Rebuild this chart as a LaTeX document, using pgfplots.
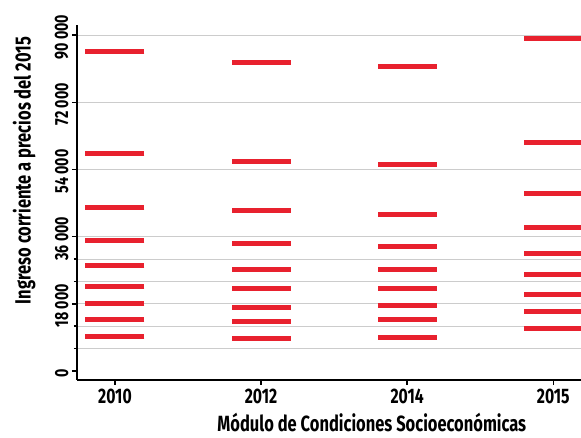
\documentclass[border=0pt]{standalone}
\usepackage{pgfplots}
\pgfplotsset{compat=1.18}
\usepackage{fontspec}
\setmainfont{Fira Sans}[FakeStretch=0.75]
\definecolor{barred}{RGB}{232,33,46}
\definecolor{gridgray}{RGB}{204,204,204}
\begin{document}
\begin{tikzpicture}
\begin{axis}[
  scale only axis, width=504pt, height=355pt,
  xmin=-0.26, xmax=3.19, ymin=-2400, ymax=92700,
  axis x line=bottom, axis y line=left,
  axis line style={-, line width=2.4pt, black},
  xtick={0,1,2,3}, xticklabels={2010,2012,2014,2015},
  ytick={18000,36000,54000,72000,90000},
  minor ytick={6000,12000,24000,30000},
  extra y ticks={0}, extra y tick style={grid=none},
  scaled y ticks=false,
  ymajorgrids, yminorgrids,
  major grid style={gridgray, line width=1pt},
  minor grid style={gridgray, line width=1pt},
  tick align=outside, major tick length=5pt, minor tick length=3pt,
  tick style={black, line width=1.5pt},
  /pgf/number format/assume math mode=true,
  /pgf/number format/1000 sep={\,},
  yticklabel style={rotate=90, xshift=-2pt, font=\fontsize{19}{22}\selectfont\bfseries},
  xticklabel style={font=\fontsize{21}{24}\selectfont\bfseries},
  xlabel={Módulo de Condiciones Socioeconómicas},
  ylabel={Ingreso corriente a precios del 2015},
  label style={font=\fontsize{22}{25}\selectfont\bfseries},
  xlabel style={at={(axis description cs:0.585,-0.121)}, anchor=center},
  ylabel style={at={(axis description cs:-0.105,0.59)}, anchor=center, rotate=0},
]
\addplot[only marks, mark=-, mark size=29.5pt, mark options={barred, line width=5pt, line cap=butt}] table {
x y
0 85500
0 58300
0 43900
0 34900
0 28300
0 22700
0 18000
0 13700
0 9200
1 82700
1 56200
1 42900
1 34200
1 27300
1 22200
1 17100
1 13300
1 8800
2 81600
2 55300
2 41800
2 33400
2 27100
2 22200
2 17600
2 13700
2 9000
3 89000
3 61300
3 47600
3 38500
3 31400
3 25800
3 20600
3 16000
3 11500
};
\end{axis}
\pgfresetboundingbox
\path[use as bounding box] (-77pt,-58pt) rectangle (504pt,380pt);
\end{tikzpicture}
\end{document}
